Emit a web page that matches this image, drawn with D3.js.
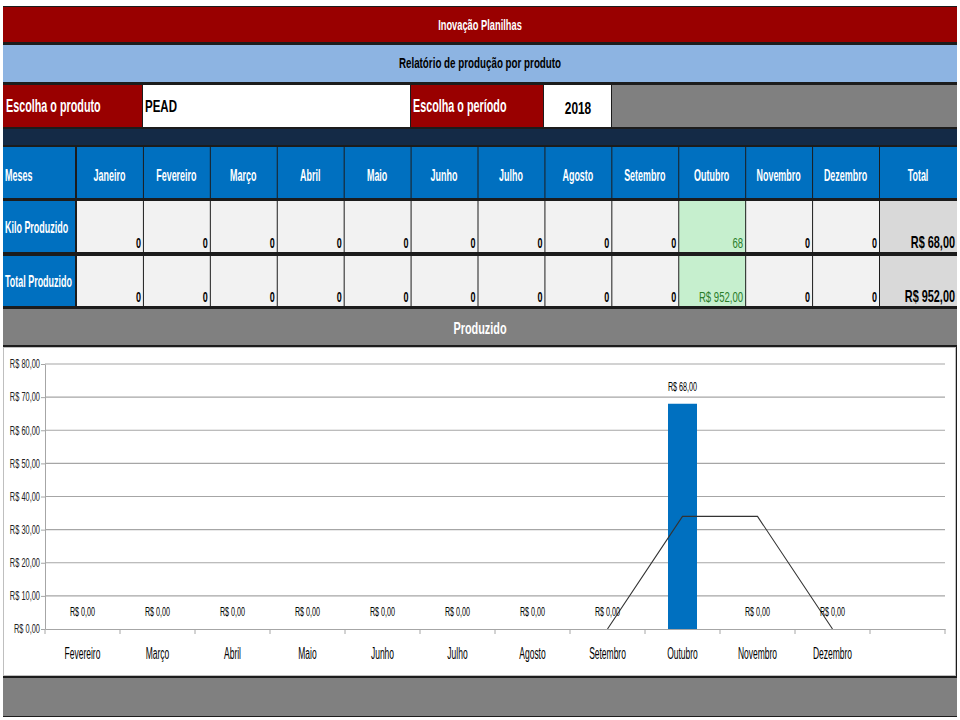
<!DOCTYPE html>
<html>
<head>
<meta charset="utf-8">
<script src="https://cdn.jsdelivr.net/npm/d3@7"></script>
<style>
  body { margin: 0; background: #fff; }
  svg text { font-family: "Liberation Sans", Arial, sans-serif; }
</style>
</head>
<body>
<div id="chart"></div>
<script>
// dados da planilha
var meses = ["Janeiro", "Fevereiro", "Março", "Abril", "Maio", "Junho",
  "Julho", "Agosto", "Setembro", "Outubro", "Novembro", "Dezembro"];
var kiloProduzido = [0, 0, 0, 0, 0, 0, 0, 0, 0, 68, 0, 0];
var totalProduzido = [0, 0, 0, 0, 0, 0, 0, 0, 0, 952, 0, 0];
var totais = ["R$ 68,00", "R$ 952,00"];

// dados do gráfico (categorias começam em Fevereiro, última faixa vazia)
var chartCats = ["Fevereiro", "Março", "Abril", "Maio", "Junho", "Julho",
  "Agosto", "Setembro", "Outubro", "Novembro", "Dezembro", ""];
var chartValues = [0, 0, 0, 0, 0, 0, 0, 0, 68, 0, 0];
var mediaMovel = [null, null, null, null, null, null, null, 0, 34, 34, 0];
var yTicks = [0, 10, 20, 30, 40, 50, 60, 70, 80];

var W = 960, H = 720;
var K = 0.64; // compressão horizontal do texto (fonte estreita)
var svg = d3.select("#chart").append("svg")
  .attr("width", W)
  .attr("height", H);

var brl = function(v){
  return "R$ " + d3.format(",.2f")(v).replace(/,/g, "#").replace(".", ",").replace(/#/g, ".");
};

// texto estreito: escala horizontal mantendo a posição x
function squeeze(sel, k){
  sel.each(function(){
    var t = d3.select(this);
    var x = +t.attr("x") || 0;
    t.attr("x", x / k).attr("transform", "scale(" + k + ",1)");
  });
}

var L = 3, R = 957;
var dark = "#1c1c1c";

function cell(x, y, w, h, fill){
  return svg.append("rect")
    .attr("x", x).attr("y", y)
    .attr("width", w).attr("height", h)
    .attr("fill", fill);
}
function label(x, y, txt, opts){
  opts = opts || {};
  var t = svg.append("text")
    .attr("x", x).attr("y", y)
    .attr("text-anchor", opts.anchor || "start")
    .attr("dominant-baseline", "central")
    .style("font-size", (opts.size || 14) + "px")
    .style("font-weight", opts.weight || "bold")
    .attr("fill", opts.fill || "#fff")
    .text(txt);
  squeeze(t, opts.k || K);
  return t;
}

// fundo escuro (bordas)
cell(L, 6, R - L, 711, dark);

// título
cell(L, 7, R - L, 35, "#990000");
label(480, 25, "Inovação Planilhas", {anchor: "middle", size: 15, k: 0.62});

// subtítulo
cell(L, 45, R - L, 37, "#8db4e2");
label(480, 63, "Relatório de produção por produto", {anchor: "middle", size: 14, fill: "#000", k: 0.7});

// seleção
cell(L, 85, 139, 42, "#990000");
label(6, 106, "Escolha o produto", {size: 18, k: 0.6});
cell(143, 85, 267, 42, "#fff");
label(145, 106, "PEAD", {size: 16, fill: "#000", k: 0.72});
cell(411, 85, 132, 42, "#990000");
label(413, 106, "Escolha o período", {size: 18, k: 0.6});
cell(544, 85, 67, 42, "#fff");
label(578, 108, "2018", {anchor: "middle", size: 17, fill: "#000", k: 0.7});
cell(612, 85, R - 612, 42, "#808080");

// faixa azul escura
cell(L, 129, R - L, 16, "#142a46");

// tabela
var colX = d3.scaleBand()
  .domain(meses)
  .range([76, 879]);

var rows = [{y: 147, h: 51}, {y: 201, h: 51}, {y: 256, h: 50}];

// cabeçalho
cell(L, rows[0].y, 72, rows[0].h, "#0070c0");
label(5, 175, "Meses", {size: 16, k: 0.56});
meses.forEach(function(m){
  cell(colX(m) + 1, rows[0].y, colX.bandwidth() - 1, rows[0].h, "#0070c0");
  label(colX(m) + colX.bandwidth() / 2, 175, m, {anchor: "middle", size: 16, k: 0.56});
});
cell(880, rows[0].y, R - 880, rows[0].h, "#0070c0");
label(918, 175, "Total", {anchor: "middle", size: 16, k: 0.56});

// linhas de valores
var linhas = [
  {nome: "Kilo Produzido", vals: kiloProduzido, ly: 227,
    fmt: function(v){ return String(v); }},
  {nome: "Total Produzido", vals: totalProduzido, ly: 281,
    fmt: function(v){ return v === 0 ? "0" : brl(v); }}
];
linhas.forEach(function(ln, i){
  var r = rows[i + 1];
  cell(L, r.y, 72, r.h, "#0070c0");
  label(5, ln.ly, ln.nome, {size: 16, k: 0.56});
  ln.vals.forEach(function(v, j){
    var m = meses[j];
    var hi = v !== 0;
    cell(colX(m) + 1, r.y, colX.bandwidth() - 1, r.h, hi ? "#c6efce" : "#f2f2f2");
    label(colX(m) + colX.bandwidth() - 2, r.y + r.h - 9, ln.fmt(v),
      {anchor: "end", size: 15, weight: hi ? "normal" : "bold",
        fill: hi ? "#2a7d2a" : "#000", k: hi ? 0.64 : 0.6});
  });
  cell(880, r.y, R - 880, r.h, "#d9d9d9");
  label(R - 2, r.y + r.h - 10, totais[i], {anchor: "end", size: 17, fill: "#000"});
});

// faixa "Produzido"
cell(L, 309, R - L, 36, "#808080");
label(480, 328, "Produzido", {anchor: "middle", size: 17});

// área do gráfico
cell(L, 347, R - L - 1, 329, "#bfbfbf");
cell(L + 1, 348, R - L - 3, 327, "#fff");

// rodapé
cell(L, 678, R - L, 38, "#808080");

// gráfico
var margin = {left: 45, right: 945, top: 364, bottom: 629};
var x = d3.scaleBand()
  .domain(d3.range(chartCats.length))
  .range([margin.left, margin.right]);
var y = d3.scaleLinear()
  .domain([0, 80])
  .range([margin.bottom, margin.top]);

var g = svg.append("g");

// linhas de grade
g.selectAll("line.grid")
  .data(yTicks.slice(1))
  .enter().append("line")
  .attr("x1", margin.left).attr("x2", margin.right)
  .attr("y1", function(d){ return y(d); })
  .attr("y2", function(d){ return y(d); })
  .attr("stroke", "#a6a6a6")
  .attr("stroke-width", 1.2);

// barras
var barW = 29;
g.selectAll("rect.bar")
  .data(chartValues)
  .enter().append("rect")
  .attr("x", function(d, i){ return x(i) + (x.bandwidth() - barW) / 2; })
  .attr("y", function(d){ return y(d); })
  .attr("width", barW)
  .attr("height", function(d){ return y(0) - y(d); })
  .attr("fill", "#0070c0");

// média móvel (linha)
var linha = d3.line()
  .defined(function(d){ return d !== null; })
  .x(function(d, i){ return x(i) + x.bandwidth() / 2; })
  .y(function(d){ return y(d); });
g.append("path")
  .datum(mediaMovel)
  .attr("d", linha)
  .attr("fill", "none")
  .attr("stroke", "#333")
  .attr("stroke-width", 1.1);

// eixo y
var yAxis = d3.axisLeft(y)
  .tickValues(yTicks)
  .tickSize(4)
  .tickSizeOuter(0)
  .tickFormat(function(d){ return brl(d); });
var gy = g.append("g")
  .attr("transform", "translate(" + margin.left + ",0)")
  .call(yAxis);
gy.select(".domain").attr("stroke", "#a6a6a6");
gy.selectAll(".tick line").attr("stroke", "#a6a6a6");
gy.selectAll(".tick text")
  .attr("x", -5)
  .style("font-size", "12px")
  .style("font-family", "'Liberation Sans', sans-serif")
  .attr("fill", "#222")
  .call(squeeze, 0.62);

// eixo x
var xAxis = d3.axisBottom(x)
  .tickSize(0)
  .tickSizeOuter(0)
  .tickFormat(function(i){ return chartCats[i]; });
var gx = g.append("g")
  .attr("transform", "translate(0," + margin.bottom + ")")
  .call(xAxis);
gx.select(".domain").attr("stroke", "#a6a6a6").attr("stroke-width", 1.2);
gx.selectAll(".tick text")
  .attr("y", 19)
  .style("font-size", "16px")
  .style("font-family", "'Liberation Sans', sans-serif")
  .attr("fill", "#000")
  .call(squeeze, 0.53);
g.selectAll("line.xtick")
  .data(d3.range(chartCats.length + 1))
  .enter().append("line")
  .attr("x1", function(i){ return margin.left + i * x.bandwidth(); })
  .attr("x2", function(i){ return margin.left + i * x.bandwidth(); })
  .attr("y1", margin.bottom)
  .attr("y2", margin.bottom + 5)
  .attr("stroke", "#a6a6a6");

// rótulos de dados
g.selectAll("text.dl")
  .data(chartValues)
  .enter().append("text")
  .attr("x", function(d, i){ return x(i) + x.bandwidth() / 2; })
  .attr("y", function(d){ return y(d) - 17; })
  .attr("text-anchor", "middle")
  .attr("dominant-baseline", "central")
  .style("font-size", "12px")
  .attr("fill", "#000")
  .text(function(d){ return brl(d); })
  .call(squeeze, 0.6);
</script>
</body>
</html>
